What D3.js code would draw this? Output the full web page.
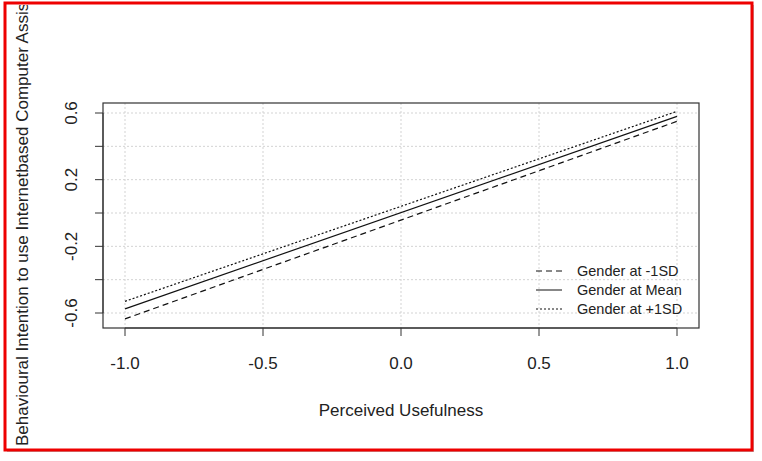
<!DOCTYPE html>
<html><head><meta charset="utf-8">
<script src="https://cdn.jsdelivr.net/npm/d3@7"></script>
<style>body{margin:0;background:#fff}svg{display:block}text{font-family:"Liberation Sans",Arial,sans-serif;fill:#222}</style>
</head><body><div id="chart"></div>
<script>
var xTicks = [-1.0, -0.5, 0.0, 0.5, 1.0];
var yTicks = [-0.6, -0.4, -0.2, 0.0, 0.2, 0.4, 0.6];
var yLabels = [-0.6, -0.2, 0.2, 0.6];
var seriesNames = ["Gender at -1SD", "Gender at Mean", "Gender at +1SD"];
var seriesDash = ["6,4", null, "2,2"];
var xVals = [-1, 1];
var lowVals = [-0.635, 0.55];
var meanVals = [-0.575, 0.58];
var highVals = [-0.53, 0.61];
var series = [lowVals, meanVals, highVals];

var W = 762, H = 461;
var svg = d3.select("#chart").append("svg").attr("width", W).attr("height", H);

// frame with red border and shadow
svg.append("rect").attr("x", 7).attr("y", 5).attr("width", 747).attr("height", 447).attr("fill", "#bbb");
svg.append("rect").attr("x", 5).attr("y", 3).attr("width", 747).attr("height", 447)
    .attr("fill", "#fff").attr("stroke", "#e00").attr("stroke-width", 3);

var box = {left: 103, top: 103, right: 699, bottom: 328};
var x = d3.scaleLinear().domain([-1, 1]).range([125, 677]);
var y = d3.scaleLinear().domain([-0.6, 0.6]).range([313, 113]);

// grid
svg.selectAll(".vg").data(xTicks).enter().append("line")
    .attr("x1", d => x(d)).attr("x2", d => x(d)).attr("y1", box.top).attr("y2", box.bottom)
    .attr("stroke", "#d3d3d3").attr("stroke-dasharray", "2,2");
svg.selectAll(".hg").data(yTicks).enter().append("line")
    .attr("y1", d => y(d)).attr("y2", d => y(d)).attr("x1", box.left).attr("x2", box.right)
    .attr("stroke", "#d3d3d3").attr("stroke-dasharray", "2,2");

// lines
var line = d3.line().x((d, i) => x(xVals[i])).y(d => y(d));
series.forEach(function(s, i) {
    svg.append("path").attr("d", line(s)).attr("fill", "none").attr("stroke", "#111")
        .attr("stroke-width", 1.2).attr("stroke-dasharray", seriesDash[i]);
});

// box
svg.append("rect").attr("x", box.left).attr("y", box.top)
    .attr("width", box.right - box.left).attr("height", box.bottom - box.top)
    .attr("fill", "none").attr("stroke", "#333").attr("stroke-width", 1.2);

// x axis
var xg = svg.append("g").attr("transform", "translate(0," + box.bottom + ")");
xg.append("line").attr("x1", x(-1)).attr("x2", x(1)).attr("stroke", "#333");
xg.selectAll(".t").data(xTicks).enter().append("line")
    .attr("x1", d => x(d)).attr("x2", d => x(d)).attr("y2", 8).attr("stroke", "#333");
xg.selectAll(".l").data(xTicks).enter().append("text")
    .attr("x", d => x(d)).attr("y", 41).attr("text-anchor", "middle").style("font-size", "17px")
    .text(d => d3.format(".1f")(d).replace("−", "-"));

// y axis
var yg = svg.append("g").attr("transform", "translate(" + box.left + ",0)");
yg.append("line").attr("y1", y(-0.6)).attr("y2", y(0.6)).attr("stroke", "#333");
yg.selectAll(".t").data(yTicks).enter().append("line")
    .attr("y1", d => y(d)).attr("y2", d => y(d)).attr("x2", -8).attr("stroke", "#333");
yg.selectAll(".l").data(yLabels).enter().append("text")
    .attr("transform", d => "translate(-26," + y(d) + ") rotate(-90)")
    .attr("text-anchor", "middle").style("font-size", "17px")
    .text(d => d3.format(".1f")(d).replace("−", "-"));

// titles
svg.append("text").attr("x", 401).attr("y", 416).attr("text-anchor", "middle")
    .style("font-size", "17px").text("Perceived Usefulness");
svg.append("defs").append("clipPath").attr("id", "clip").append("rect")
    .attr("x", 6).attr("y", 5).attr("width", 745).attr("height", 444);
svg.append("g").attr("clip-path", "url(#clip)").append("text")
    .attr("transform", "translate(28,446) rotate(-90)").style("font-size", "17px")
    .text("Behavioural Intention to use Internetbased Computer Assisted Language Learning");

// legend
var lg = svg.append("g");
seriesNames.forEach(function(n, i) {
    var yy = 271 + i * 19;
    lg.append("line").attr("x1", 536).attr("x2", 562).attr("y1", yy).attr("y2", yy)
        .attr("stroke", "#111").attr("stroke-dasharray", seriesDash[i]);
    lg.append("text").attr("x", 577).attr("y", yy + 5).style("font-size", "14.5px").text(n);
});
</script></body></html>
